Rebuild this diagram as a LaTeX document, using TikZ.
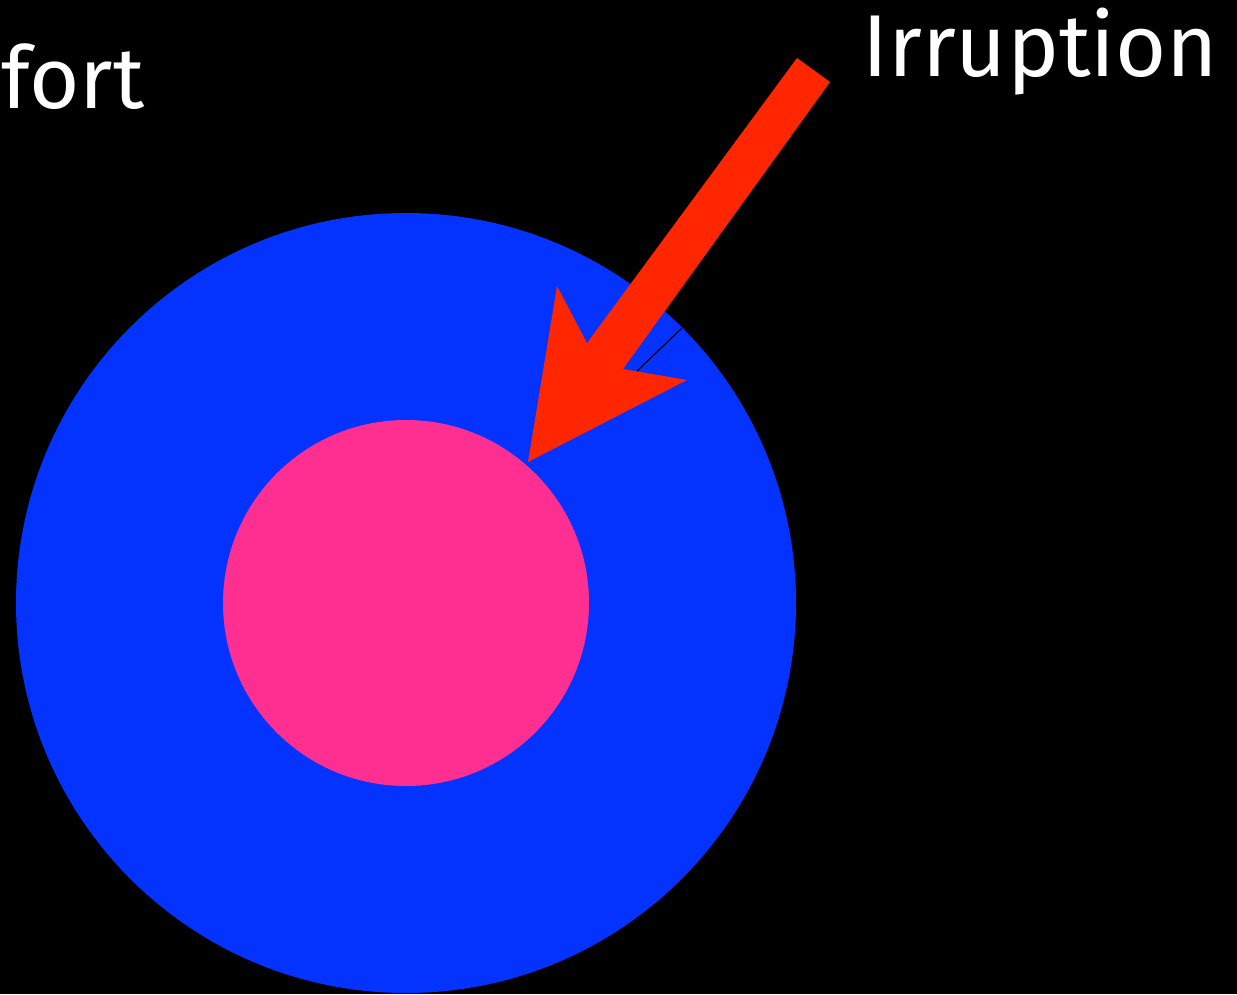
\documentclass[tikz,border=0pt]{standalone}
\usepackage{fontspec}
\setmainfont{Fira Sans}
\definecolor{bgblack}{RGB}{0,0,0}
\definecolor{discblue}{RGB}{4,51,255}
\definecolor{discpink}{RGB}{255,47,146}
\definecolor{arrowred}{RGB}{255,38,0}
\tikzset{
  lbl/.style={text=white, inner sep=0pt, anchor=base west},
  disc/.style={circle, inner sep=0pt, draw=none}
}
\begin{document}
\begin{tikzpicture}[x=1pt,y=-1pt]
\fill[bgblack] (0,0) rectangle (1237,994);
\useasboundingbox (0,0) rectangle (1237,994);
\node[disc, fill=discblue, minimum size=780pt] (outer) at (406,603) {};
\node[disc, fill=discpink, minimum size=366pt] (inner) at (406,603) {};
\fill[arrowred] (797,58) -- (830,82) -- (623,369) -- (687,380) -- (528,462) -- (557,286) -- (587,343) -- cycle;
\draw[black, line width=1.2pt] (637,371) -- (682,328);
\node[lbl] (irr) at (862,76) {\resizebox{356pt}{!}{Irruption}};
\node[lbl] (fort) at (1,108) {\resizebox{143pt}{!}{fort}};
\end{tikzpicture}
\end{document}
